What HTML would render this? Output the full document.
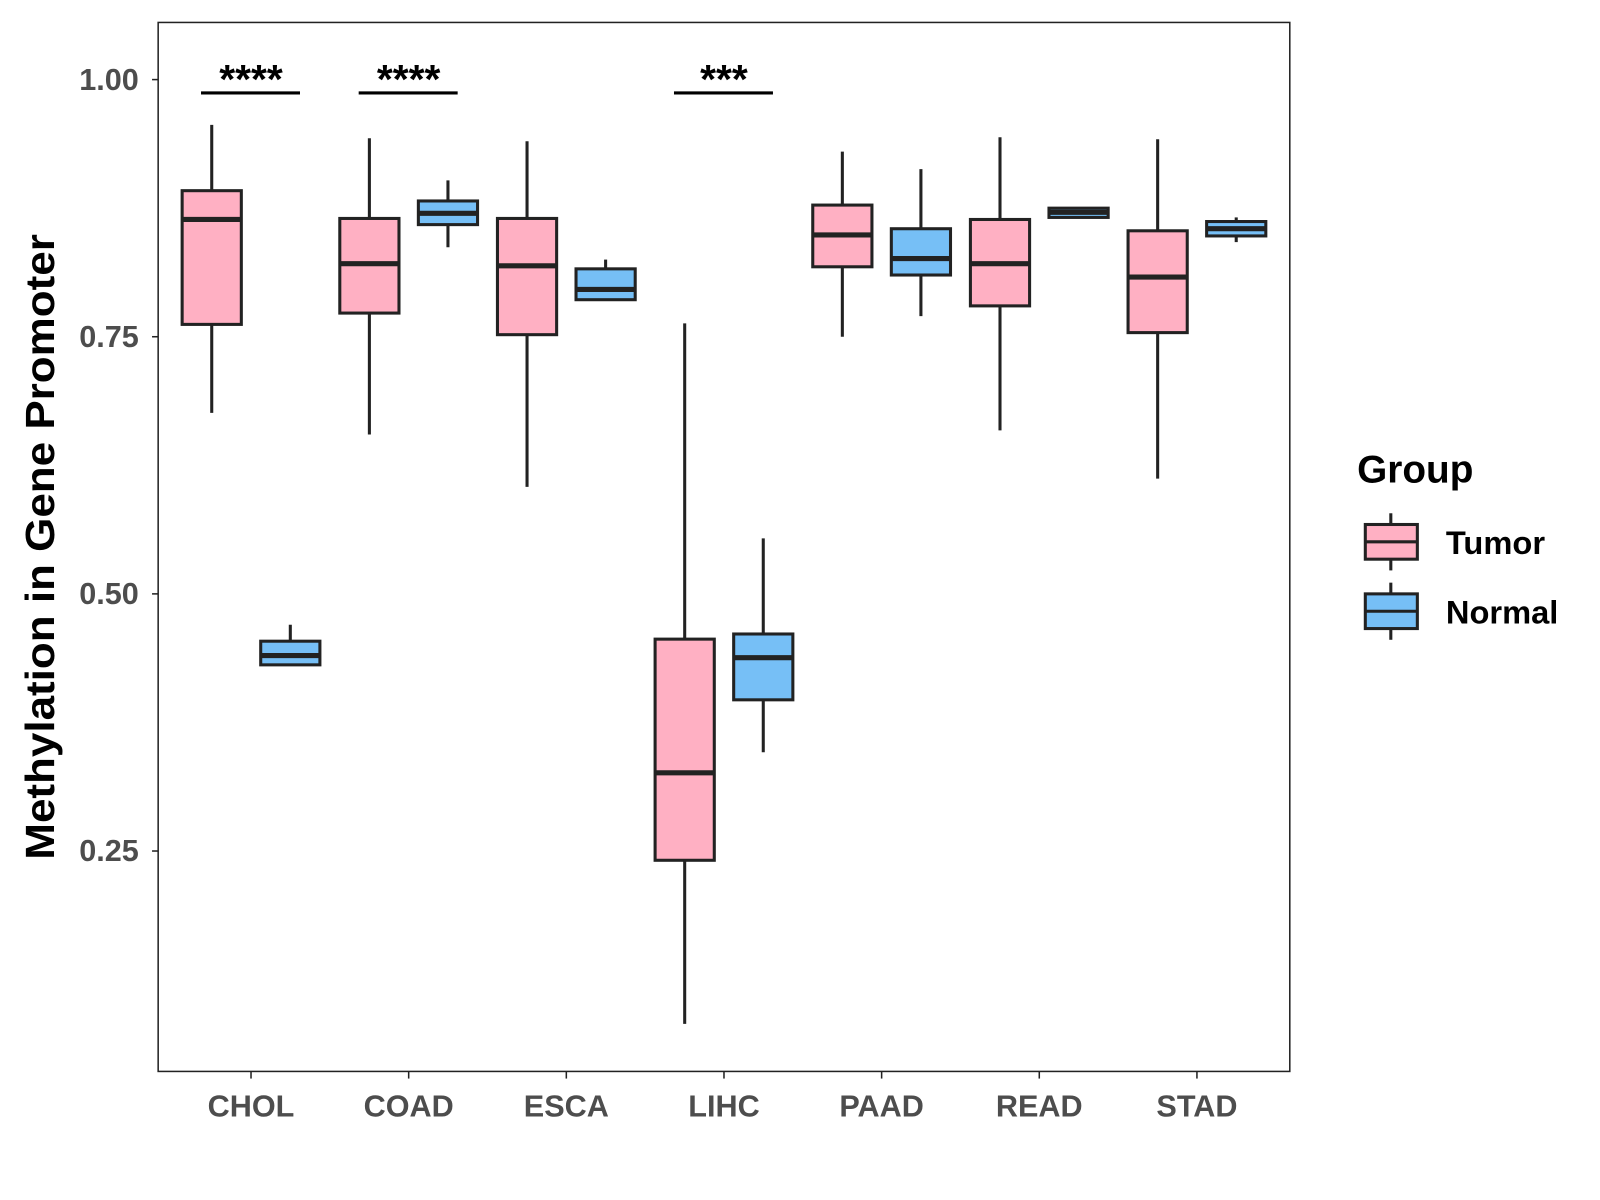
<!DOCTYPE html>
<html><head><meta charset="utf-8"><style>
html,body{margin:0;padding:0;background:#fff;}
svg{display:block;font-family:"Liberation Sans",Arial,sans-serif;}
</style></head><body>
<svg id="chart" width="1600" height="1200" viewBox="0 0 1568 1176" xmlns="http://www.w3.org/2000/svg">
<rect x="0" y="0" width="1568" height="1176" fill="#fff"/>
<rect x="155" y="22" width="1109" height="1028" fill="#fff" stroke="#222" stroke-width="1.5"/>
<g id="marks"></g>
<text transform="translate(53,536) rotate(-90)" text-anchor="middle" font-size="40" font-weight="bold" fill="#000" textLength="613" lengthAdjust="spacingAndGlyphs">Methylation in Gene Promoter</text>
<g>
<text x="1330" y="473" font-size="38" font-weight="bold" fill="#000">Group</text>
<g>
<line x1="1363" y1="503" x2="1363" y2="559" stroke="#222" stroke-width="3"/>
<rect x="1338" y="514" width="51" height="34" fill="#FFB0C3" stroke="#222" stroke-width="3"/>
<line x1="1338" y1="531" x2="1389" y2="531" stroke="#222" stroke-width="3"/>
<text x="1417" y="543" font-size="32" font-weight="bold" fill="#000">Tumor</text>
</g>
<g>
<line x1="1363" y1="571" x2="1363" y2="627" stroke="#222" stroke-width="3"/>
<rect x="1338" y="582" width="51" height="34" fill="#76BFF6" stroke="#222" stroke-width="3"/>
<line x1="1338" y1="599" x2="1389" y2="599" stroke="#222" stroke-width="3"/>
<text x="1417" y="611" font-size="32" font-weight="bold" fill="#000">Normal</text>
</g>
</g>
</svg>
<script>
const categories = ["CHOL","COAD","ESCA","LIHC","PAAD","READ","STAD"];
// [low whisker, q1, median, q3, high whisker]
const tumorStats = [
 [0.676,0.762,0.864,0.892,0.956],
 [0.655,0.773,0.821,0.865,0.943],
 [0.604,0.752,0.819,0.865,0.940],
 [0.082,0.241,0.326,0.456,0.763],
 [0.750,0.818,0.849,0.878,0.930],
 [0.659,0.780,0.821,0.864,0.944],
 [0.612,0.754,0.808,0.853,0.942]
];
const normalStats = [
 [0.431,0.431,0.440,0.454,0.470],
 [0.837,0.859,0.870,0.882,0.902],
 [0.786,0.786,0.796,0.816,0.825],
 [0.346,0.397,0.438,0.461,0.554],
 [0.770,0.810,0.826,0.855,0.913],
 [0.866,0.866,0.871,0.875,0.875],
 [0.842,0.848,0.855,0.862,0.866]
];
const yTicks = [0.25,0.50,0.75,1.00];
const yTickLabels = ["0.25","0.50","0.75","1.00"];
const sigCategories = ["CHOL","COAD","LIHC"];
const sigLabels = ["****","****","***"];
const sigLevel = 0.987;

const NS="http://www.w3.org/2000/svg";
const g=document.getElementById('marks');
function y(v){return 78+(1-v)*1008;}
function x(i){return 246+i*154.5;}
function el(t,a){const e=document.createElementNS(NS,t);for(const k in a)e.setAttribute(k,a[k]);g.appendChild(e);return e;}

yTicks.forEach((t,i)=>{
 const tk=el('line',{x1:149,x2:155,y1:y(t),y2:y(t),stroke:'#222','stroke-width':1.5});
 
 
 const tx=el('text',{x:136,y:y(t)+10,'text-anchor':'end','font-size':30,'font-weight':'bold',fill:'#4D4D4D'});
 tx.textContent=yTickLabels[i];
 
 
});
categories.forEach((c,i)=>{
 const tk=el('line',{x1:x(i),x2:x(i),y1:1050,y2:1057,stroke:'#222','stroke-width':1.5});
 
 
 const tx=el('text',{x:x(i),y:1094,'text-anchor':'middle','font-size':30,'font-weight':'bold',fill:'#4D4D4D'});
 tx.textContent=c;
 
 
});
function box(cx,s,fill,name){
 const w=58;
 const wh=el('line',{x1:cx,x2:cx,y1:y(s[0]),y2:y(s[4]),stroke:'#222','stroke-width':3});
 
 
 const r=el('rect',{x:cx-w/2,y:y(s[3]),width:w,height:Math.max(y(s[1])-y(s[3]),1),fill:fill,stroke:'#222','stroke-width':3});
 
 
 const m=el('line',{x1:cx-w/2,x2:cx+w/2,y1:y(s[2]),y2:y(s[2]),stroke:'#222','stroke-width':5});
 
 
}
categories.forEach((c,i)=>{
 box(x(i)-38.5,tumorStats[i],'#FFB0C3','tumor-'+c.toLowerCase());
 box(x(i)+38.5,normalStats[i],'#76BFF6','normal-'+c.toLowerCase());
});
sigCategories.forEach((c,k)=>{
 const i=categories.indexOf(c);
 const l=el('line',{x1:x(i)-49,x2:x(i)+48,y1:y(sigLevel),y2:y(sigLevel),stroke:'#000','stroke-width':3});
 
 
 const t=el('text',{x:x(i),y:y(sigLevel),'text-anchor':'middle','font-size':40,'font-weight':'bold',fill:'#000'});
 t.textContent=sigLabels[k];
 
 
});
</script>
</body></html>
